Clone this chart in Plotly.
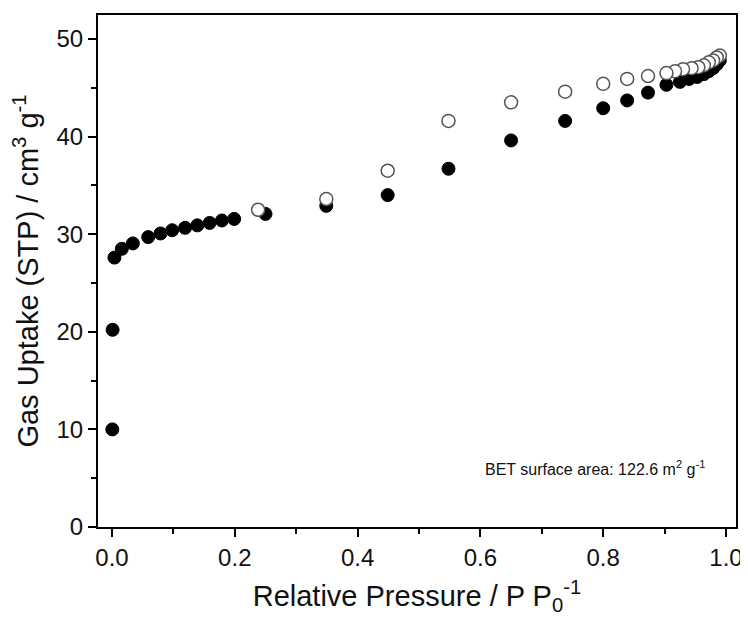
'''
    N2 sorption isotherm (adsorption / desorption) with BET surface area note.
'''
import plotly.graph_objects as go

# adsorption branch (filled circles)
ads_p = [0.0005, 0.001, 0.004, 0.016, 0.034, 0.059, 0.079, 0.098, 0.119, 0.139,
         0.159, 0.179, 0.199, 0.250, 0.349, 0.449, 0.548, 0.650, 0.738, 0.800,
         0.839, 0.873, 0.903, 0.925, 0.940, 0.953, 0.964, 0.972, 0.979, 0.985, 0.990]
ads_v = [10.0, 20.2, 27.6, 28.5, 29.05, 29.7, 30.07, 30.4, 30.65, 30.9,
         31.15, 31.4, 31.56, 32.07, 32.9, 34.0, 36.7, 39.6, 41.6, 42.9,
         43.7, 44.5, 45.3, 45.6, 45.9, 46.1, 46.4, 46.7, 47.0, 47.4, 47.8]

# desorption branch (open circles)
des_p = [0.990, 0.985, 0.979, 0.972, 0.964, 0.955, 0.944, 0.930, 0.917, 0.903,
         0.873, 0.839, 0.800, 0.738, 0.650, 0.548, 0.449, 0.349, 0.238]
des_v = [48.3, 48.1, 47.8, 47.6, 47.3, 47.1, 47.0, 46.9, 46.7, 46.5,
         46.2, 45.9, 45.4, 44.6, 43.5, 41.6, 36.5, 33.6, 32.5]

x_ticks = [0.0, 0.2, 0.4, 0.6, 0.8, 1.0]
y_ticks = [0, 10, 20, 30, 40, 50]

font = "Liberation Sans"

fig = go.Figure()
fig.add_trace(go.Scatter(
    x=ads_p, y=ads_v, mode="markers", name="Adsorption",
    marker=dict(symbol="circle", size=13, color="black",
                line=dict(color="black", width=1)),
))
fig.add_trace(go.Scatter(
    x=des_p, y=des_v, mode="markers", name="Desorption",
    marker=dict(symbol="circle", size=13, color="white",
                line=dict(color="#555555", width=1.5)),
))

fig.add_annotation(
    x=0.969, y=6.0, xref="x", yref="y",
    text="BET surface area: 122.6 m<sup>2</sup> g<sup>-1</sup>",
    showarrow=False, xanchor="right", yanchor="middle",
    font=dict(family=font, size=16, color="#111111"),
)

axis_common = dict(
    showline=True, linecolor="black", linewidth=2, mirror=True,
    ticks="outside", ticklen=8, tickwidth=1.5, tickcolor="black",
    showgrid=False, zeroline=False,
    tickfont=dict(family=font, size=24, color="#111111"),
)

# the page adds an 8px body margin, so the margins are shifted to compensate
fig.update_layout(
    width=740, height=616,
    margin=dict(l=90, r=11, t=5, b=97),
    paper_bgcolor="white", plot_bgcolor="white",
    showlegend=False,
    xaxis=dict(
        range=[-0.0228, 1.0163], tickvals=x_ticks,
        ticktext=[f"{v:.1f}" for v in x_ticks],
        minor=dict(dtick=0.1, ticks="outside", ticklen=5, tickwidth=1.5,
                   tickcolor="black", tick0=0),
        title=dict(text="Relative Pressure / P P<sub>0</sub><sup>-1</sup>",
                   font=dict(family=font, size=29, color="#111111"), standoff=16),
        **axis_common,
    ),
    yaxis=dict(
        range=[0, 52.45], tickvals=y_ticks,
        minor=dict(dtick=5, ticks="outside", ticklen=5, tickwidth=1.5,
                   tickcolor="black", tick0=0),
        title=dict(text="Gas Uptake (STP) / cm<sup>3</sup> g<sup>-1</sup>",
                   font=dict(family=font, size=29, color="#111111"), standoff=10),
        **axis_common,
    ),
)

fig.write_html("out.html")
